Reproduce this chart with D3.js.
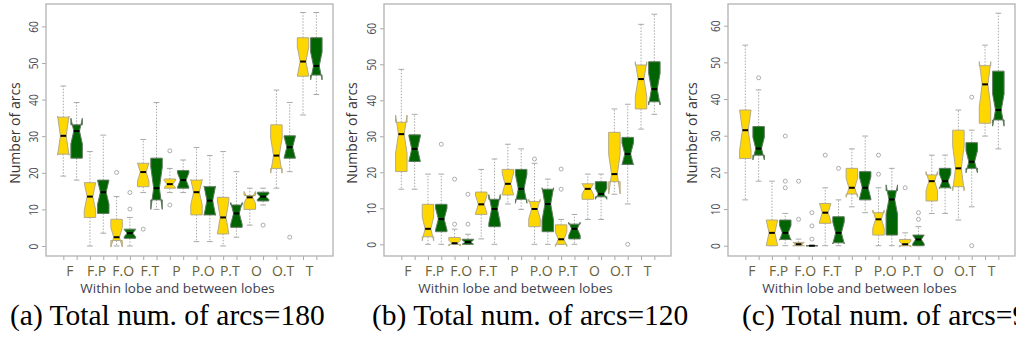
<!DOCTYPE html>
<html>
<head>
<meta charset="utf-8">
<script src="https://cdn.jsdelivr.net/npm/d3@7"></script>
<style>
  html, body { margin: 0; padding: 0; background: #fff; }
  svg { display: block; }
</style>
</head>
<body>
<svg id="chart" width="1016" height="343"></svg>
<script>
// ---- Data ----------------------------------------------------------------
const categories = ["F", "F.P", "F.O", "F.T", "P", "P.O", "P.T", "O", "O.T", "T"];
const yTickValues = [0, 10, 20, 30, 40, 50, 60];
const xTitle = "Within lobe and between lobes";
const yTitle = "Number of arcs";
const captions = ["(a) Total num. of arcs=180", "(b) Total num. of arcs=120", "(c) Total num. of arcs=90"];

// Box statistics per category:
// [lower whisker, Q1, median, Q3, upper whisker, notch low, notch high]
const statsA_gold = [
  [19.1, 25.1, 30.1, 35.2, 43.7, 24.8, 35.5],
  [0, 7.8, 13.5, 17.3, 25.8, 9.7, 17.3],
  [0, 1.5, 2.4, 7.3, 13.5, -0.3, 5.1],
  [14.6, 16.2, 20.2, 22.6, 29.1, 17.7, 22.7],
  [14.6, 15.8, 16.9, 18.3, 21.2, 15.9, 17.9],
  [1.2, 8.5, 14.7, 18.0, 26.9, 11.2, 18.2],
  [0, 3.3, 7.8, 13.3, 25.8, 3.3, 12.3],
  [5.7, 10.0, 13.3, 13.8, 15.8, 11.7, 14.9],
  [15.8, 21.2, 24.7, 33.1, 42.6, 19.9, 29.5],
  [35.8, 46.4, 50.4, 56.9, 63.8, 46.4, 54.4]
];
const statsA_green = [
  [18.0, 24.0, 31.4, 33.1, 39.2, 27.9, 34.9],
  [3.5, 8.9, 14.7, 18.0, 30.3, 11.4, 18.0],
  [0, 2.1, 3.5, 4.6, 7.8, 2.5, 4.5],
  [10.0, 12.6, 15.8, 24.0, 39.2, 10.0, 21.6],
  [14.6, 15.8, 18.0, 20.6, 23.5, 16.0, 20.0],
  [1.2, 8.5, 12.4, 16.2, 24.7, 8.4, 16.4],
  [2.4, 5.1, 8.9, 11.2, 20.3, 5.9, 11.9],
  [11.2, 12.3, 13.5, 14.7, 15.8, 12.7, 14.3],
  [20.3, 24.0, 27.0, 30.1, 39.2, 24.0, 30.0],
  [41.4, 46.7, 49.2, 56.9, 63.8, 45.4, 53.0]
];
const statsB_gold = [
  [15.3, 20.2, 30.6, 33.9, 48.6, 25.3, 35.9],
  [0, 2.1, 4.3, 11.1, 19.5, 1.0, 7.6],
  [0, 0, 0.3, 1.9, 4.2, -0.5, 1.1],
  [1.5, 8.3, 11.1, 14.5, 20.8, 8.6, 13.6],
  [11.2, 13.7, 16.8, 20.8, 27.8, 13.8, 19.8],
  [0, 4.9, 9.8, 11.9, 22.5, 7.1, 12.5],
  [0, 0, 1.4, 5.4, 6.9, -0.6, 3.4],
  [6.9, 12.5, 15.4, 16.8, 19.5, 13.9, 16.9],
  [13.9, 17.4, 19.5, 31.1, 37.6, 14.0, 25.0],
  [32.0, 37.6, 45.9, 49.8, 61.1, 41.1, 50.7]
];
const statsB_green = [
  [15.3, 23.0, 26.5, 30.4, 36.1, 23.0, 30.0],
  [0, 3.5, 7.0, 11.1, 19.5, 4.0, 10.0],
  [0, 0, 0.6, 1.4, 2.8, 0, 1.2],
  [0, 4.9, 9.8, 12.5, 23.7, 5.8, 13.8],
  [9.7, 12.5, 15.4, 20.8, 26.5, 11.4, 19.4],
  [0, 3.5, 11.2, 15.3, 18.1, 6.7, 15.7],
  [0, 1.5, 4.3, 5.6, 8.3, 2.5, 6.1],
  [6.9, 13.2, 14.0, 17.4, 19.5, 12.5, 15.5],
  [11.2, 22.2, 25.1, 29.7, 38.9, 22.1, 28.1],
  [36.1, 39.6, 43.1, 50.7, 63.9, 38.7, 47.5]
];
const statsC_gold = [
  [12.5, 23.8, 31.5, 37.0, 54.7, 26.0, 37.0],
  [0, 0, 3.5, 7.0, 17.6, 0, 7.0],
  [0, 0, 0.4, 0.9, 1.8, -0.1, 0.9],
  [0, 6.1, 9.0, 11.5, 15.8, 6.5, 11.5],
  [10.6, 14.1, 15.8, 21.1, 26.4, 13.2, 18.4],
  [0, 2.9, 7.2, 9.0, 15.8, 4.7, 9.7],
  [0, 0, 0.4, 1.7, 3.5, -0.4, 1.2],
  [8.8, 12.2, 17.6, 19.3, 24.7, 15.0, 20.2],
  [7.0, 16.1, 21.1, 31.5, 37.0, 15.0, 27.2],
  [29.9, 33.4, 44.0, 49.1, 54.7, 37.8, 50.2]
];
const statsC_green = [
  [17.6, 24.7, 26.5, 32.5, 42.5, 23.4, 29.6],
  [0, 1.7, 3.5, 7.0, 8.8, 1.5, 5.5],
  [0, 0, 0, 0, 0, 0, 0],
  [0, 0.8, 3.5, 7.9, 12.5, 0.5, 6.5],
  [9.0, 12.5, 15.8, 20.2, 29.9, 12.8, 18.8],
  [0, 2.9, 12.6, 15.0, 21.1, 8.6, 16.6],
  [0, 0, 1.7, 2.9, 5.2, 0.5, 2.9],
  [8.8, 15.8, 17.6, 21.1, 24.7, 15.6, 19.6],
  [10.6, 21.1, 22.9, 28.1, 31.5, 19.9, 25.9],
  [26.4, 34.3, 37.0, 47.6, 63.4, 32.6, 41.4]
];

// Outliers as [category, value]
const outliersA_gold = [["F.O", 20.1], ["F.T", 4.6], ["P", 26.0], ["P", 11.2]];
const outliersA_green = [["F.O", 14.6], ["F.O", 10.1], ["O", 5.7], ["O.T", 2.4]];
const outliersB_gold = [["F.O", 5.6], ["F.O", 18.1], ["P.O", 23.7], ["P.T", 15.3], ["P.T", 20.9]];
const outliersB_green = [["F.P", 27.8], ["F.O", 5.6], ["F.O", 13.9], ["O.T", 0]];
const outliersC_gold = [["F.O", 17.6], ["F.O", 7.2], ["F.T", 24.7], ["P.O", 24.7], ["P.O", 19.5], ["P.T", 15.8]];
const outliersC_green = [["F", 45.8], ["F.P", 29.9], ["F.P", 17.6], ["F.P", 15.8],
  ["F.O", 9.0], ["F.O", 5.4], ["F.O", 1.8], ["F.T", 21.1], ["P.T", 9.0], ["P.T", 7.2],
  ["O.T", 40.5], ["O.T", 0]];

// ---- Layout --------------------------------------------------------------
const seriesColors = ["#FFD700", "#006400"];
const plotTop = 4, plotBottom = 256, plotWidth = 287;
const panels = [
  { left: 46,  yRange: [246, 26.4],   stats: [statsA_gold, statsA_green], outliers: [outliersA_gold, outliersA_green], caption: captions[0], captionX: 10,  yTitleGap: 26 },
  { left: 384, yRange: [244.3, 28.3], stats: [statsB_gold, statsB_green], outliers: [outliersB_gold, outliersB_green], caption: captions[1], captionX: 372, yTitleGap: 27 },
  { left: 728, yRange: [245.7, 25.7], stats: [statsC_gold, statsC_green], outliers: [outliersC_gold, outliersC_green], caption: captions[2], captionX: 742, yTitleGap: 31 }
];

const svg = d3.select("#chart");
const x = d3.scaleLinear().domain([-0.3, 21.25]).range([0, plotWidth]);
const unit = x(1) - x(0);
const hw = unit * 0.43;           // half box width
const pos = (ci, si) => 2 * ci + si + 1;

const gray = "#a9a9a9";
const sansFont = "'Open Sans', 'DejaVu Sans', sans-serif";

panels.forEach(p => {
  const y = d3.scaleLinear().domain([0, 60]).range(p.yRange);
  const g = svg.append("g").attr("transform", `translate(${p.left},0)`);

  // y axis: tick marks and rotated labels
  const yAxis = g.append("g")
    .call(d3.axisLeft(y).tickValues(yTickValues).tickSize(4).tickPadding(0));
  yAxis.select(".domain").remove();
  yAxis.selectAll(".tick line").attr("stroke", gray).attr("stroke-width", 1);
  yAxis.selectAll(".tick text")
    .attr("x", 0).attr("y", -8).attr("dy", 0)
    .attr("text-anchor", "middle")
    .attr("transform", "rotate(-90) scale(0.78,1)")
    .attr("fill", "#474858")
    .style("font-family", sansFont)
    .style("font-size", "13px");

  // x axis: tick marks at every box, labels per category
  const xAxis = g.append("g")
    .attr("transform", `translate(0,${plotBottom})`)
    .call(d3.axisBottom(x).tickValues(d3.range(1, 21)).tickSize(4).tickFormat(""));
  xAxis.select(".domain").remove();
  xAxis.selectAll(".tick line").attr("stroke", gray).attr("stroke-width", 1);

  g.selectAll(".cat").data(categories).join("text")
    .attr("class", "cat")
    .attr("x", (d, i) => x(2 * i + 1.5))
    .attr("y", 276)
    .attr("text-anchor", "middle")
    .attr("fill", "#6b6136")
    .style("font-family", sansFont)
    .style("font-size", "14px")
    .text(d => d);

  // axis titles
  g.append("text")
    .attr("x", plotWidth / 2 - 12).attr("y", 293)
    .attr("text-anchor", "middle")
    .attr("fill", "#3d4150")
    .style("font-family", sansFont)
    .style("font-size", "13.5px")
    .text(xTitle);

  g.append("text")
    .attr("transform", `translate(${-p.yTitleGap},${(plotTop + plotBottom) / 2 + 3}) rotate(-90)`)
    .attr("text-anchor", "middle")
    .attr("fill", "#3a3633")
    .style("font-family", sansFont)
    .style("font-size", "14px")
    .text(yTitle);

  // boxes
  const line = d3.line();
  p.stats.forEach((rows, si) => {
    const sg = g.append("g");
    rows.forEach((s, ci) => {
      const [lo, q1, med, q3, hi, nlo, nhi] = s;
      const cx = x(pos(ci, si));

      // whiskers
      sg.append("line").attr("x1", cx).attr("x2", cx).attr("y1", y(q3)).attr("y2", y(hi))
        .attr("stroke", gray).attr("stroke-dasharray", "1.5,1.5");
      sg.append("line").attr("x1", cx).attr("x2", cx).attr("y1", y(q1)).attr("y2", y(lo))
        .attr("stroke", gray).attr("stroke-dasharray", "1.5,1.5");
      // staples
      [lo, hi].forEach(v => {
        sg.append("line").attr("x1", cx - hw / 2).attr("x2", cx + hw / 2)
          .attr("y1", y(v)).attr("y2", y(v))
          .attr("stroke", gray).attr("stroke-width", 1);
      });

      // notched box
      const pts = [
        [cx - hw, y(q1)], [cx - hw, y(nlo)], [cx - hw / 2, y(med)], [cx - hw, y(nhi)], [cx - hw, y(q3)],
        [cx + hw, y(q3)], [cx + hw, y(nhi)], [cx + hw / 2, y(med)], [cx + hw, y(nlo)], [cx + hw, y(q1)]
      ];
      sg.append("path").attr("d", line(pts) + "Z")
        .attr("fill", seriesColors[si])
        .attr("stroke", si === 0 ? "#b3aa88" : "#5f7a5f")
        .attr("stroke-width", 1);

      // median
      sg.append("line").attr("x1", cx - hw / 2).attr("x2", cx + hw / 2)
        .attr("y1", y(med)).attr("y2", y(med))
        .attr("stroke", "#000").attr("stroke-width", 2);
    });

    // outliers
    sg.selectAll(".out").data(p.outliers[si]).join("circle")
      .attr("class", "out")
      .attr("cx", d => x(pos(categories.indexOf(d[0]), si)))
      .attr("cy", d => y(d[1]))
      .attr("r", 2)
      .attr("fill", "none")
      .attr("stroke", "#999")
      .attr("stroke-width", 0.8);
  });

  // plot frame
  g.append("rect")
    .attr("x", 0).attr("y", plotTop)
    .attr("width", plotWidth).attr("height", plotBottom - plotTop)
    .attr("fill", "none").attr("stroke", "#b2b2b2").attr("stroke-width", 1.3);

  // caption
  svg.append("text")
    .attr("x", p.captionX).attr("y", 325)
    .attr("fill", "#000")
    .style("font-family", "'Liberation Serif', 'Times New Roman', serif")
    .style("font-size", "29.5px")
    .text(p.caption);
});
</script>
</body>
</html>
